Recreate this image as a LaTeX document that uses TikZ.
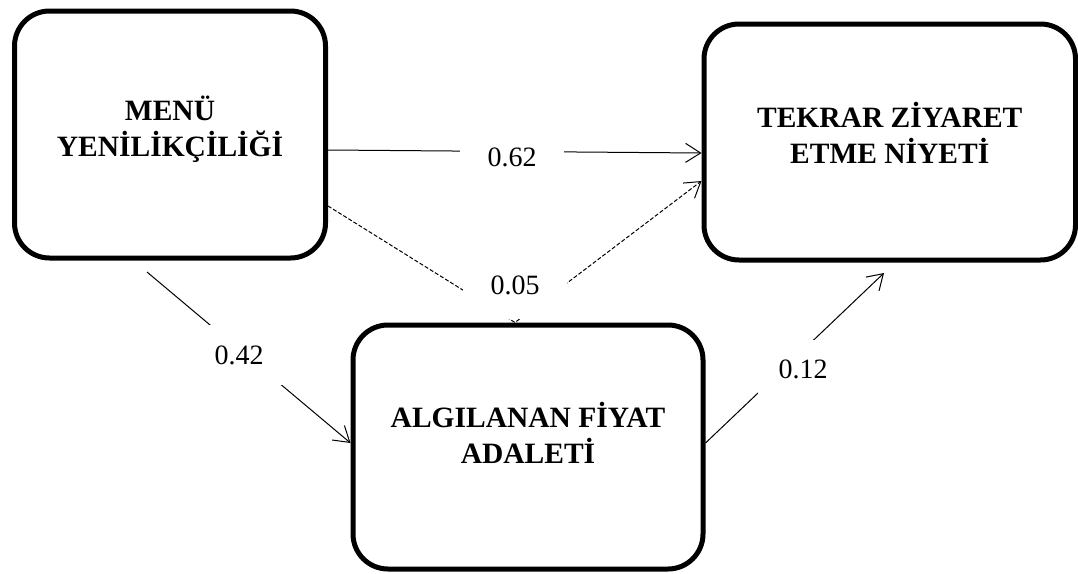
\documentclass[tikz,border=0pt]{standalone}
\usepackage{fontspec}
\setmainfont{Liberation Serif}
\usetikzlibrary{arrows.meta,calc}
\newcommand{\boxlines}[2]{\raisebox{#1}[\height][\depth]{\begin{tabular}{@{}c@{}}#2\end{tabular}}}
\begin{document}
\begin{tikzpicture}[x=1pt,y=-1pt,
  box/.style={draw=black, line width=5pt, rounded corners=35pt,
    font=\fontsize{29.5}{34.5}\selectfont\bfseries, inner sep=0pt},
  conn/.style={line width=1pt, -{Straight Barb[length=15pt,width=19pt]}},
  dashconn/.style={conn, dash pattern=on 4pt off 2pt},
  lbl/.style={fill=white, font=\fontsize{28}{32}\selectfont, inner sep=0pt}]
\useasboundingbox (0,0) rectangle (1078,573);
\node[box, minimum width=311pt, minimum height=247pt] (A) at (170,134.5) {\boxlines{3pt}{MENÜ\\YENİLİKÇİLİĞİ}};
\node[box, minimum width=371.5pt, minimum height=236pt] (B) at (889.75,142) {\boxlines{4pt}{TEKRAR ZİYARET\\ETME NİYETİ}};
\node[box, minimum width=350pt, minimum height=244pt] (C) at (528,447) {\boxlines{9pt}{ALGILANAN FİYAT\\ADALETİ}};
% connectors
\draw[conn] ($(A.east)+(0,15.5)$) -- ($(B.west)+(0,11)$);
\draw[dashconn] ($(A.east)+(0,71.5)$) -- ($(C.north)+(-13,0)$) -- ($(B.west)+(0,39)$);
\draw[conn] ($(A.south)+(-23,11.5)$) -- ($(C.west)+(0,-4)$);
\draw[conn] ($(C.east)+(0,-4)$) -- ($(B.south)+(-5.75,10.5)$);
% labels
\node[lbl, minimum width=104pt, minimum height=30pt] (l62) at (512,157) {0.62};
\node[lbl, minimum width=104pt, minimum height=67pt] (l05) at (515,285.5) {0.05};
\node[lbl, minimum width=88pt, minimum height=60pt] (l42) at (239,355) {0.42};
\node[lbl, minimum width=90pt, minimum height=58pt] (l12) at (803,369) {0.12};
\end{tikzpicture}
\end{document}
